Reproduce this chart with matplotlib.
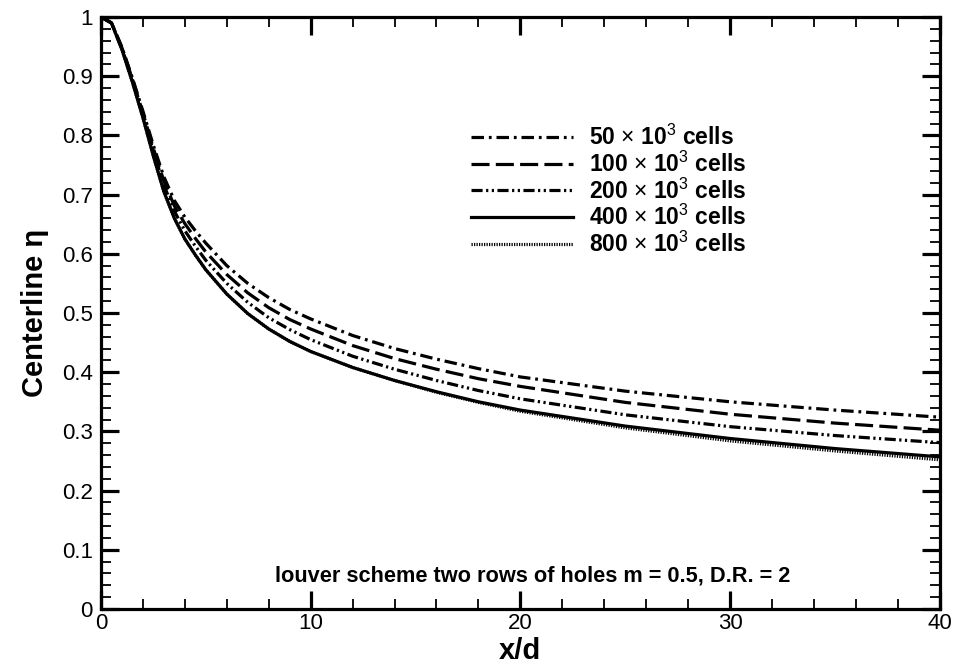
import matplotlib
matplotlib.use("Agg")
import matplotlib.pyplot as plt
from matplotlib.ticker import MultipleLocator

plt.rcParams["font.family"] = ["Liberation Sans", "DejaVu Sans"]
plt.rcParams["mathtext.fontset"] = "custom"
plt.rcParams["mathtext.rm"] = "Liberation Sans"
plt.rcParams["mathtext.bf"] = "Liberation Sans:bold"
plt.rcParams["lines.scale_dashes"] = False

# valores (x/d vs eta en la línea central)
x_d = [0, 0.5, 1, 1.5, 2, 2.5, 3, 3.5, 4, 4.5, 5, 6, 7, 8, 9, 10,
       12, 14, 16, 18, 20, 25, 30, 35, 40]
eta_50k = [1.0, 0.99, 0.949, 0.897, 0.841, 0.783, 0.730, 0.690, 0.662, 0.639,
           0.618, 0.580, 0.550, 0.526, 0.506, 0.490, 0.462, 0.440, 0.422,
           0.406, 0.392, 0.368, 0.350, 0.336, 0.324]
eta_100k = [1.0, 0.99, 0.948, 0.895, 0.838, 0.778, 0.723, 0.681, 0.651, 0.626,
            0.603, 0.565, 0.534, 0.509, 0.489, 0.473, 0.445, 0.423, 0.405,
            0.389, 0.376, 0.349, 0.329, 0.314, 0.302]
eta_200k = [1.0, 0.99, 0.947, 0.893, 0.835, 0.773, 0.716, 0.672, 0.639, 0.613,
            0.589, 0.550, 0.518, 0.492, 0.472, 0.455, 0.427, 0.405, 0.386,
            0.369, 0.355, 0.328, 0.308, 0.293, 0.281]
eta_400k = [1.0, 0.99, 0.945, 0.89, 0.83, 0.765, 0.705, 0.660, 0.625, 0.598,
            0.573, 0.532, 0.499, 0.473, 0.452, 0.435, 0.408, 0.386, 0.367,
            0.350, 0.336, 0.309, 0.288, 0.271, 0.257]
eta_800k = [1.0, 0.99, 0.945, 0.89, 0.83, 0.765, 0.705, 0.660, 0.625, 0.598,
            0.573, 0.532, 0.499, 0.473, 0.452, 0.435, 0.408, 0.386, 0.366,
            0.349, 0.334, 0.306, 0.284, 0.267, 0.252]

series = [
    (eta_50k, r"50 $\times$ 10$^3$ cells", dict(linestyle=(0, (9, 3.5, 2, 3.5)))),
    (eta_100k, r"100 $\times$ 10$^3$ cells", dict(linestyle=(0, (13, 4.5)))),
    (eta_200k, r"200 $\times$ 10$^3$ cells",
     dict(linestyle=(0, (8, 2.5, 1.6, 2.5, 1.6, 2.5)))),
    (eta_400k, r"400 $\times$ 10$^3$ cells", dict(linestyle="-")),
    (eta_800k, r"800 $\times$ 10$^3$ cells",
     dict(linestyle=(0, (0.9, 0.9)), dash_capstyle="butt")),
]

fig = plt.figure(figsize=(9.57, 6.69), dpi=100)
ax = fig.add_axes([0.1055, 0.0897, 0.8765, 0.8849])

for ys, etiqueta, estilo in series:
    ax.plot(x_d, ys, color="black", linewidth=2.3, label=etiqueta, **estilo)

ax.set_xlim(0, 40)
ax.set_ylim(0, 1)
ax.xaxis.set_major_locator(MultipleLocator(10))
ax.xaxis.set_minor_locator(MultipleLocator(2))
ax.yaxis.set_major_locator(MultipleLocator(0.1))
ax.yaxis.set_minor_locator(MultipleLocator(0.02))
ax.yaxis.set_major_formatter(plt.FuncFormatter(lambda v, p: f"{v:g}"))

for lado in ax.spines.values():
    lado.set_linewidth(2.3)
ax.tick_params(which="both", direction="in", top=True, right=True,
               labelsize=16)
ax.tick_params(axis="x", pad=3)
ax.tick_params(axis="y", pad=6)
ax.tick_params(which="major", length=13, width=2.3)
ax.tick_params(which="minor", length=7, width=1.3)

ax.set_xlabel("x/d", fontsize=21, fontweight="bold", labelpad=2)
ax.set_ylabel("Centerline η", fontsize=21, fontweight="bold", labelpad=9)

leg = ax.legend(loc="upper left", bbox_to_anchor=(0.417, 0.853), frameon=False,
                handlelength=4.45, handletextpad=0.7, labelspacing=0.07,
                prop=dict(size=16.5, weight="bold"))

ax.text(20.6, 0.055, "louver scheme two rows of holes m = 0.5, D.R. = 2",
        ha="center", va="center", fontsize=15.7, fontweight="bold")

fig.savefig("out.png", dpi=100)
